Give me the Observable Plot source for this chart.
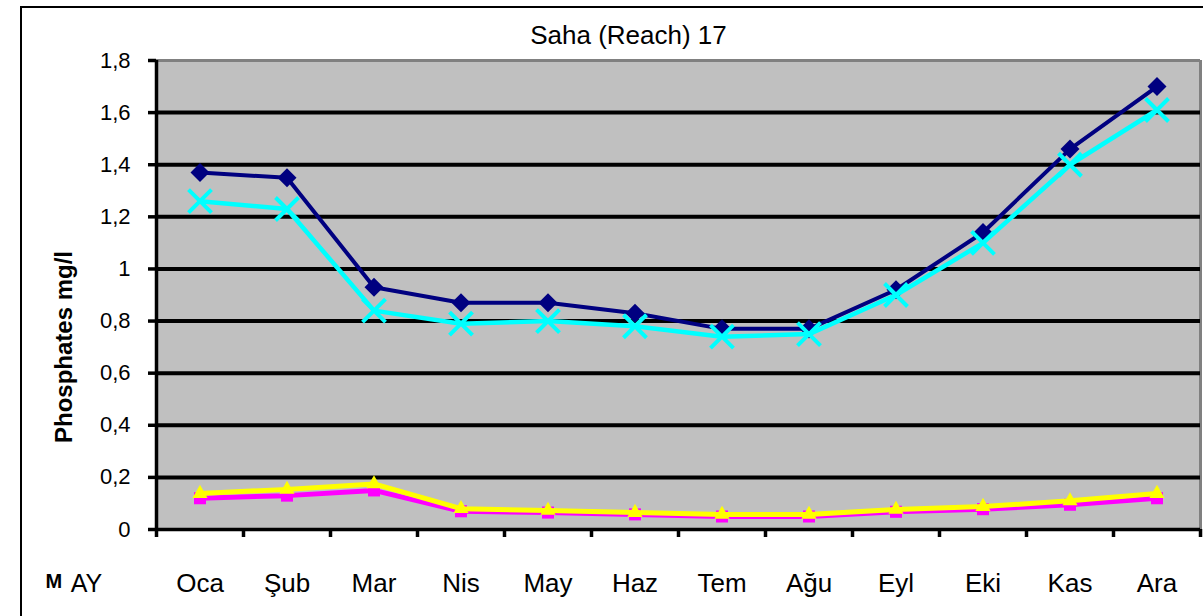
<!DOCTYPE html>
<html>
<head>
<meta charset="utf-8">
<script src="https://cdn.jsdelivr.net/npm/d3@7"></script>
<script src="https://cdn.jsdelivr.net/npm/@observablehq/plot@0.6"></script>
<style>
  html, body { margin: 0; padding: 0; background: #fff; overflow: hidden; }
  #wrap { position: relative; width: 1203px; height: 616px; overflow: hidden; }
  #frameBox { position: absolute; left: 20px; top: 6px; width: 1300px; height: 700px; border: 2px solid #000; pointer-events: none; box-sizing: border-box; }
</style>
</head>
<body>
<div id="wrap"><div id="chart"></div><div id="frameBox"></div></div>
<script>
const months = ["Oca", "Şub", "Mar", "Nis", "May", "Haz", "Tem", "Ağu", "Eyl", "Eki", "Kas", "Ara"];
const seriesNavy    = [1.37, 1.35, 0.93, 0.87, 0.87, 0.83, 0.77, 0.77, 0.92, 1.14, 1.46, 1.70];
const seriesMagenta = [0.12, 0.13, 0.15, 0.07, 0.065, 0.058, 0.05, 0.05, 0.068, 0.078, 0.095, 0.12];
const seriesYellow  = [0.138, 0.154, 0.175, 0.08, 0.073, 0.065, 0.058, 0.058, 0.077, 0.088, 0.11, 0.138];
const seriesCyan    = [1.26, 1.23, 0.84, 0.79, 0.80, 0.78, 0.74, 0.75, 0.90, 1.10, 1.40, 1.61];
const yTicks = [0, 0.2, 0.4, 0.6, 0.8, 1, 1.2, 1.4, 1.6, 1.8];
const gridVals = [0.2, 0.4, 0.6, 0.8, 1, 1.2, 1.4, 1.6];
const titleText = "Saha (Reach) 17";
const yLabel = "Phosphates mg/l";
const xHeader = "AY";

const pts = arr => arr.map((v, i) => ({x: i + 0.5, y: v}));
const xBounds = d3.range(0, months.length + 1);
const fmt = d => String(+d.toFixed(1)).replace(".", ",");

const chart = Plot.plot({
  width: 1203,
  height: 616,
  marginLeft: 156,
  marginRight: 3,
  marginTop: 60,
  marginBottom: 87,
  style: {fontFamily: "'Liberation Sans', Arial, sans-serif", fontSize: "22px", background: "transparent", overflow: "visible"},
  x: {type: "linear", domain: [0, months.length]},
  y: {domain: [0, 1.8]},
  marks: [
    Plot.frame({fill: "#c0c0c0", stroke: "none"}),
    Plot.ruleY([1.8], {stroke: "#808080", strokeWidth: 3}),
    Plot.ruleX([months.length], {stroke: "#808080", strokeWidth: 3}),
    Plot.ruleY(gridVals, {stroke: "#000", strokeWidth: 4}),
    Plot.axisY({ticks: yTicks, tickFormat: fmt, tickSize: 8, tickPadding: 18, strokeWidth: 3.5, fontSize: 22, fill: "#000", label: null}),
    Plot.axisX({ticks: xBounds, tickFormat: () => "", tickSize: 8, strokeWidth: 3.5, label: null}),
    Plot.ruleX([0], {stroke: "#000", strokeWidth: 3.5}),
    Plot.ruleY([0], {stroke: "#000", strokeWidth: 3.5}),
    // series 1 navy diamonds
    Plot.line(pts(seriesNavy), {x: "x", y: "y", stroke: "#000080", strokeWidth: 4}),
    Plot.dot(pts(seriesNavy), {x: "x", y: "y", symbol: "square", r: 7.6, rotate: 45, fill: "#000080"}),
    // series 2 magenta squares
    Plot.line(pts(seriesMagenta), {x: "x", y: "y", stroke: "#ff00ff", strokeWidth: 5}),
    Plot.dot(pts(seriesMagenta), {x: "x", y: "y", symbol: "square", r: 6.8, fill: "#ff00ff"}),
    // series 3 yellow triangles
    Plot.line(pts(seriesYellow), {x: "x", y: "y", stroke: "#ffff00", strokeWidth: 5}),
    Plot.dot(pts(seriesYellow), {x: "x", y: "y", symbol: "triangle", r: 5.6, fill: "#ffff00"}),
    // series 4 cyan crosses
    Plot.line(pts(seriesCyan), {x: "x", y: "y", stroke: "#00ffff", strokeWidth: 4.5}),
    Plot.dot(pts(seriesCyan), {x: "x", y: "y", symbol: "times", r: 10.5, stroke: "#00ffff", strokeWidth: 4}),
    // month labels
    Plot.text(months, {x: (d, i) => i + 0.5, y: () => 0, text: d => d, dy: 54, fontSize: 26, fill: "#000"}),
    Plot.text([xHeader], {frameAnchor: "bottom-left", text: d => d, textAnchor: "middle", lineAnchor: "middle", dx: -70, dy: 54, fontSize: 25, fill: "#000"}),
    Plot.text(["M"], {frameAnchor: "bottom-left", text: d => d, dx: -111, dy: 52, fontSize: 20, fontWeight: "bold", fill: "#000", textAnchor: "start", lineAnchor: "middle"}),
    // title
    Plot.text([titleText], {frameAnchor: "top", text: d => d, dx: -50, dy: -25, fontSize: 26, fill: "#000", lineAnchor: "middle"}),
    // y label
    Plot.text([yLabel], {frameAnchor: "left", text: d => d, textAnchor: "middle", rotate: -90, dx: -92, dy: 52, fontSize: 24, fontWeight: "bold", fill: "#000"})
  ]
});
document.getElementById("chart").appendChild(chart);
</script>
</body>
</html>
